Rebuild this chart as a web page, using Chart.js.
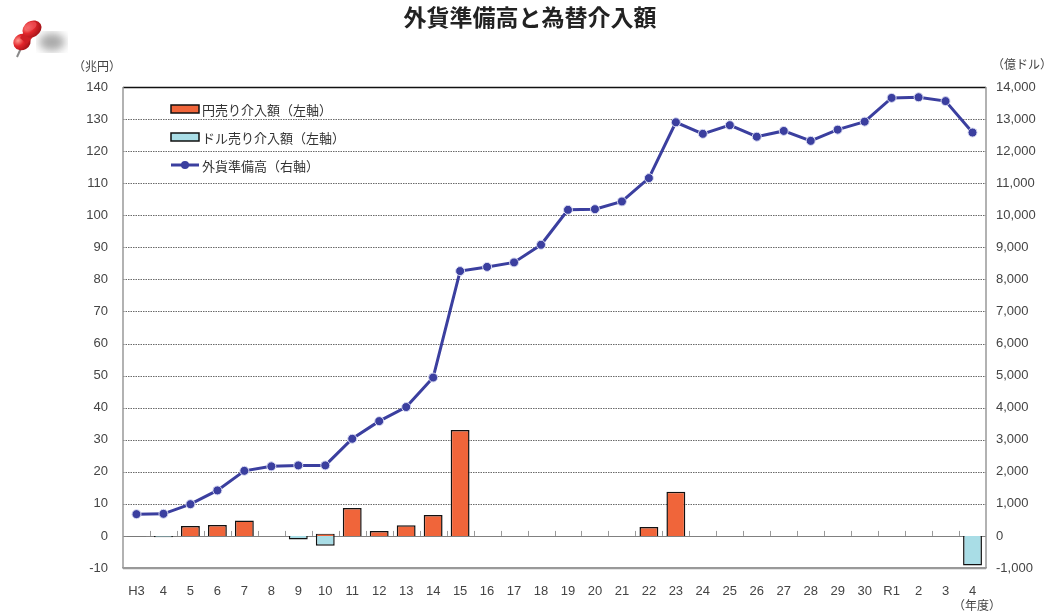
<!DOCTYPE html>
<html lang="ja">
<head>
<meta charset="utf-8">
<script src="https://cdn.jsdelivr.net/npm/chart.js@4.4.0/dist/chart.umd.min.js"></script>
<style>
  html, body { margin: 0; padding: 0; background: #fff; }
  #wrap { position: relative; width: 1056px; height: 615px; }
  #pin { position: absolute; left: 8px; top: 14px; }
</style>
</head>
<body>
<div id="wrap">
  <canvas id="myChart" width="1056" height="615"></canvas>
  <svg id="pin" width="64" height="52" viewBox="0 0 64 52">
    <defs>
      <radialGradient id="red" cx="35%" cy="30%" r="75%">
        <stop offset="0" stop-color="#ff9a90"/>
        <stop offset="0.45" stop-color="#e3262c"/>
        <stop offset="1" stop-color="#a01217"/>
      </radialGradient>
      <filter id="blur"><feGaussianBlur stdDeviation="4"/></filter>
    </defs>
    <ellipse cx="44" cy="28" rx="13" ry="9" fill="#555" opacity="0.5" filter="url(#blur)"/>
    <line x1="14" y1="32" x2="9" y2="43" stroke="#8a8a8a" stroke-width="2"/>
    <ellipse cx="14" cy="28" rx="9" ry="8" fill="url(#red)" transform="rotate(-30 14 28)"/>
    <path d="M12 24 L20 12 L29 18 L19 30 Z" fill="#cf1f25"/>
    <ellipse cx="24" cy="15" rx="10" ry="8" fill="url(#red)" transform="rotate(-30 24 15)"/>
    <ellipse cx="23" cy="12" rx="6" ry="4" fill="#f0525a" opacity="0.7" transform="rotate(-30 23 12)"/>
  </svg>
</div>
<script>
let labels = ['H3', '4', '5', '6', '7', '8', '9', '10', '11', '12', '13', '14', '15', '16', '17', '18',
  '19', '20', '21', '22', '23', '24', '25', '26', '27', '28', '29', '30', 'R1', '2', '3', '4'];

// 円売り介入額（兆円）
let yenSell = [null, null, 3.1, 3.4, 4.8, null, null, 0.7, 8.7, 1.5, 3.3, 6.5, 33.0, null, null, null,
  null, null, null, 2.8, 13.8, null, null, null, null, null, null, null, null, null, null, null];

// ドル売り介入額（兆円）
let dollarSell = [-0.1, -0.4, null, null, null, null, -1.1, -3.1, null, null, null, null, null, null, null, null,
  null, null, null, null, null, null, null, null, null, null, null, null, null, null, null, -9.2];

// 外貨準備高（億ドル）
let reserves = [680, 690, 990, 1420, 2030, 2170, 2200, 2200, 3030, 3580, 4020, 4940, 8260, 8390, 8530, 9080,
  10170, 10190, 10430, 11160, 12900, 12540, 12810, 12450, 12630, 12320, 12670, 12920, 13660, 13680, 13560, 12580];

let colorHex = ['#f0653a', '#a9dde6', '#3b3f9f'];
let FONT = '"Liberation Sans", Arial, "Noto Sans CJK JP", sans-serif';
let JFONT = '"Noto Sans CJK JP", "Liberation Sans", sans-serif';

let decor = {
  id: 'decor',
  beforeDatasetsDraw(chart) {
    let ctx = chart.ctx;
    let y = chart.scales.y;
    let x = chart.scales.x;
    let a = chart.chartArea;
    ctx.save();
    // 横グリッド線
    y.ticks.forEach((t) => {
      let py = Math.round(y.getPixelForValue(t.value)) + 0.5;
      ctx.beginPath();
      if (t.value === 140) {
        ctx.strokeStyle = '#111';
        ctx.lineWidth = 1.5;
        ctx.setLineDash([]);
      } else if (t.value === 0) {
        ctx.strokeStyle = '#808080';
        ctx.lineWidth = 1.2;
        ctx.setLineDash([]);
      } else if (t.value === -10) {
        ctx.strokeStyle = '#999';
        ctx.lineWidth = 1.5;
        ctx.setLineDash([]);
      } else {
        ctx.strokeStyle = '#6a6a6a';
        ctx.lineWidth = 1;
        ctx.setLineDash([1.5, 1]);
      }
      ctx.moveTo(a.left, py);
      ctx.lineTo(a.right, py);
      ctx.stroke();
    });
    ctx.setLineDash([]);
    // 左右の枠
    ctx.strokeStyle = '#999';
    ctx.lineWidth = 1.5;
    ctx.beginPath();
    ctx.moveTo(a.left, a.top);
    ctx.lineTo(a.left, a.bottom);
    ctx.moveTo(a.right, a.top);
    ctx.lineTo(a.right, a.bottom);
    ctx.stroke();
    // ゼロ線上の目盛り
    let zy = y.getPixelForValue(0);
    let half = (x.getPixelForValue(1) - x.getPixelForValue(0)) / 2;
    ctx.strokeStyle = '#999';
    ctx.lineWidth = 1;
    ctx.beginPath();
    for (let i = 1; i < labels.length; i++) {
      let px = Math.round(x.getPixelForValue(i) - half) + 0.5;
      ctx.moveTo(px, zy - 5);
      ctx.lineTo(px, zy);
    }
    ctx.stroke();
    ctx.restore();
  },
  afterDraw(chart) {
    let ctx = chart.ctx;
    let ds = chart.data.datasets;
    ctx.save();
    // タイトル
    ctx.fillStyle = '#222';
    ctx.font = 'bold 23px ' + JFONT;
    ctx.textAlign = 'center';
    ctx.textBaseline = 'middle';
    ctx.fillText('外貨準備高と為替介入額', 530, 17);
    // 単位
    ctx.fillStyle = '#444';
    ctx.font = '12px ' + JFONT;
    ctx.fillText('（兆円）', 97, 66);
    ctx.fillText('（億ドル）', 1022, 64);
    ctx.fillText('（年度）', 977, 605);
    // 凡例
    ctx.textAlign = 'left';
    ctx.font = '13px ' + JFONT;
    let ys = [109, 137, 165];
    for (let i = 0; i < 2; i++) {
      ctx.fillStyle = ds[i].backgroundColor;
      ctx.fillRect(171, ys[i] - 4, 28, 8);
      ctx.strokeStyle = '#111';
      ctx.lineWidth = 1.5;
      ctx.strokeRect(171, ys[i] - 4, 28, 8);
    }
    ctx.strokeStyle = ds[2].borderColor;
    ctx.lineWidth = 3;
    ctx.beginPath();
    ctx.moveTo(171, ys[2]);
    ctx.lineTo(199, ys[2]);
    ctx.stroke();
    ctx.fillStyle = ds[2].borderColor;
    ctx.beginPath();
    ctx.arc(185, ys[2], 4, 0, Math.PI * 2);
    ctx.fill();
    ctx.fillStyle = '#333';
    for (let i = 0; i < 3; i++) {
      ctx.fillText(ds[i].label, 202, ys[i] + 1);
    }
    ctx.restore();
  }
};

let ctx = document.getElementById('myChart').getContext('2d');

let myChart = new Chart(ctx, {
  type: 'bar',
  data: {
    labels: labels,
    datasets: [{
      label: '円売り介入額（左軸）',
      data: yenSell,
      backgroundColor: colorHex[0],
      borderColor: '#111',
      borderWidth: 1.5,
      yAxisID: 'y',
      order: 1
    }, {
      label: 'ドル売り介入額（左軸）',
      data: dollarSell,
      backgroundColor: colorHex[1],
      borderColor: '#111',
      borderWidth: 1.5,
      yAxisID: 'y',
      order: 2
    }, {
      type: 'line',
      label: '外貨準備高（右軸）',
      data: reserves,
      borderColor: colorHex[2],
      backgroundColor: colorHex[2],
      borderWidth: 3,
      pointRadius: 4.5,
      pointBorderColor: '#d9dbf2',
      pointBorderWidth: 1,
      pointBackgroundColor: colorHex[2],
      tension: 0,
      yAxisID: 'y1',
      order: 0
    }]
  },
  options: {
    responsive: false,
    animation: false,
    devicePixelRatio: 1,
    layout: {
      padding: { top: 87, left: 0, right: 0, bottom: 0 }
    },
    datasets: {
      bar: { categoryPercentage: 1, barPercentage: 0.7 }
    },
    plugins: {
      legend: { display: false },
      title: { display: false },
      tooltip: { enabled: false }
    },
    scales: {
      x: {
        stacked: true,
        grid: { display: false },
        border: { display: true, color: '#999', width: 1.5 },
        ticks: {
          color: '#444',
          font: { family: FONT, size: 13 },
          padding: 8,
          autoSkip: false,
          maxRotation: 0
        },
        afterFit: (scale) => { scale.height = 47; }
      },
      y: {
        position: 'left',
        stacked: true,
        min: -10,
        max: 140,
        grid: { display: false, drawTicks: false },
        border: { display: false },
        ticks: {
          stepSize: 10,
          color: '#444',
          font: { family: FONT, size: 13 },
          padding: 15
        },
        afterFit: (scale) => { scale.width = 123; }
      },
      y1: {
        position: 'right',
        min: -1000,
        max: 14000,
        grid: { display: false, drawTicks: false },
        border: { display: false },
        ticks: {
          stepSize: 1000,
          color: '#444',
          font: { family: FONT, size: 13 },
          padding: 10,
          callback: (value) => {
            return value.toLocaleString('en-US');
          }
        },
        afterFit: (scale) => { scale.width = 70; }
      }
    }
  },
  plugins: [decor]
});
</script>
</body>
</html>
